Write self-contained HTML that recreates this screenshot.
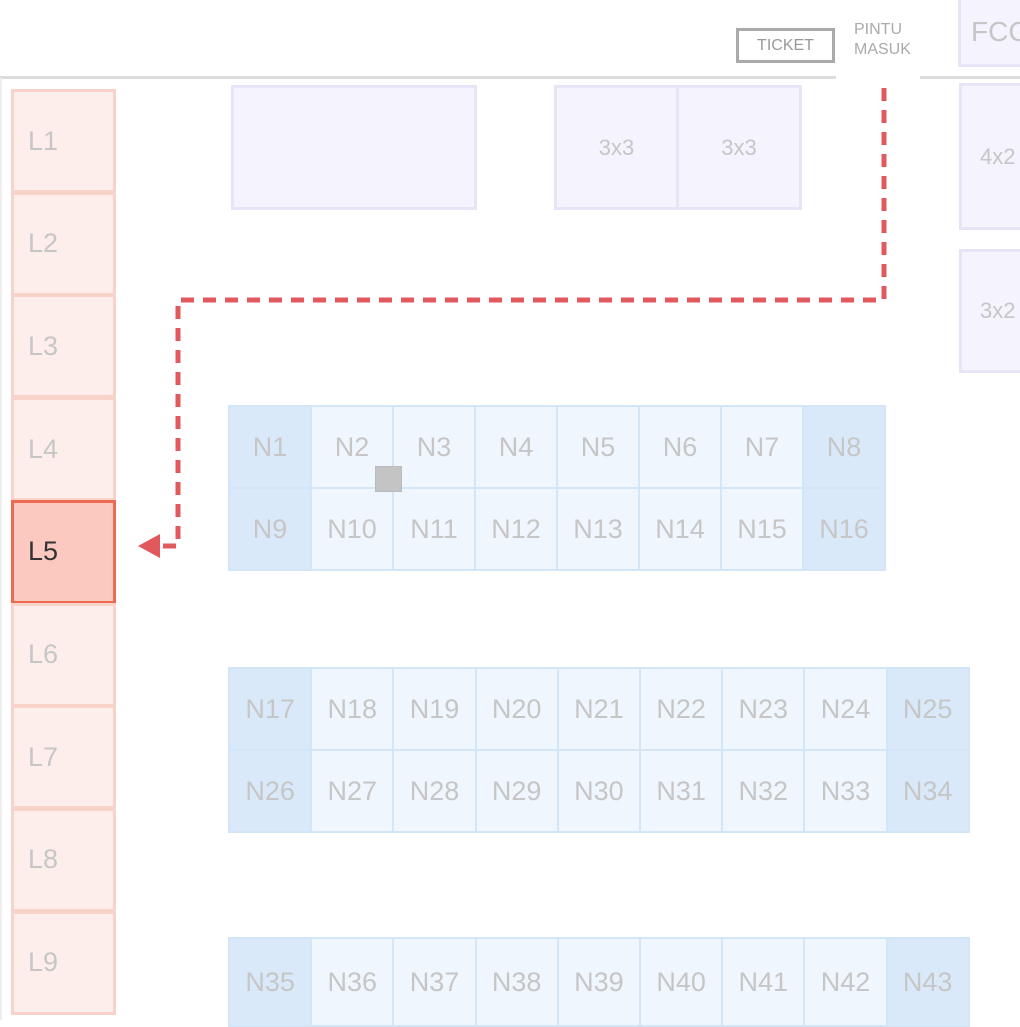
<!DOCTYPE html>
<html><head><meta charset="utf-8"><style>
body{margin:0;width:1020px;height:1020px;position:relative;overflow:hidden;background:#fff;font-family:"Liberation Sans",sans-serif}
.a{position:absolute;box-sizing:border-box;display:flex;align-items:center;justify-content:center;color:#c6c6c6}
.L{border:3px solid #f9d2ca;background:#fdeeeb;font-size:27px;justify-content:flex-start;padding-left:14px}
.p{border:3px solid #e6e4f6;background:#f4f3fe;font-size:22px}
.n{border:2px solid #d3e6f8;background:#eff6fd;font-size:27px}
.d{background:#dae9f9}
</style></head><body>
<div class="a" style="left:0;top:76px;width:836px;height:3px;background:#ddd"></div>
<div class="a" style="left:920px;top:76px;width:100px;height:3px;background:#ddd"></div>
<div class="a" style="left:0;top:78px;width:2px;height:942px;background:#eee"></div>
<div class="a" style="left:736px;top:28px;width:99px;height:35px;border:3px solid #aaa;color:#999;font-size:16px">TICKET</div>
<div class="a" style="left:854px;top:20px;width:70px;height:42px;color:#aaa;font-size:16px;line-height:20px;display:block">PINTU<br>MASUK</div>
<div class="a p" style="left:958px;top:-3px;width:80px;height:70px;font-size:28px;justify-content:flex-start;padding-left:10px">FCC</div>
<div class="a p" style="left:231px;top:85px;width:246px;height:125px"></div>
<div class="a p" style="left:554px;top:85px;width:125px;height:125px">3x3</div>
<div class="a p" style="left:676px;top:85px;width:126px;height:125px">3x3</div>
<div class="a p" style="left:959px;top:83px;width:80px;height:147px;justify-content:flex-start;padding-left:18px">4x2</div>
<div class="a p" style="left:959px;top:249px;width:80px;height:124px;justify-content:flex-start;padding-left:18px">3x2</div>
<div id="ls"></div><div id="g"></div>
<div class="a" style="left:375px;top:466px;width:27px;height:26px;background:#c4c4c4;border:1px solid #bbb"></div>
<svg style="position:absolute;left:0;top:0" width="1020" height="1020">
<path d="M884 88 V300 H178 V546 H160" fill="none" stroke="#e2595d" stroke-width="5" stroke-dasharray="13 9" stroke-linejoin="round"/>
<polygon points="138,546 160,534 160,558" fill="#e2595d"/>
</svg>
<script>
var h='';for(var i=0;i<9;i++){var t=89+i*102.7;var s=i==4?'background:#fcc9c1;border-color:#ec6a50;color:#333':'';h+='<div class="a L" style="left:11px;top:'+t+'px;width:105px;height:104px;'+s+'">L'+(i+1)+'</div>'}
document.getElementById('ls').outerHTML=h;
var g='';function grid(x,y,cols,rows,start,dark,cw){var k=start;for(var r=0;r<rows.length;r++)for(var c=0;c<cols;c++){var d=(c==0||c==cols-1&&dark)?' d':'';g+='<div class="a n'+d+'" style="left:'+(x+c*cw)+'px;top:'+rows[r][0]+'px;width:'+(cw+2)+'px;height:'+rows[r][1]+'px">N'+(k++)+'</div>'}}
grid(228,405,8,[[405,84],[487,84]],1,1,82);
grid(228,667,9,[[667,84],[749,84]],17,1,82.2);
grid(228,937,9,[[937,90]],35,1,82.2);
document.getElementById('g').outerHTML=g;
</script>
</body></html>
